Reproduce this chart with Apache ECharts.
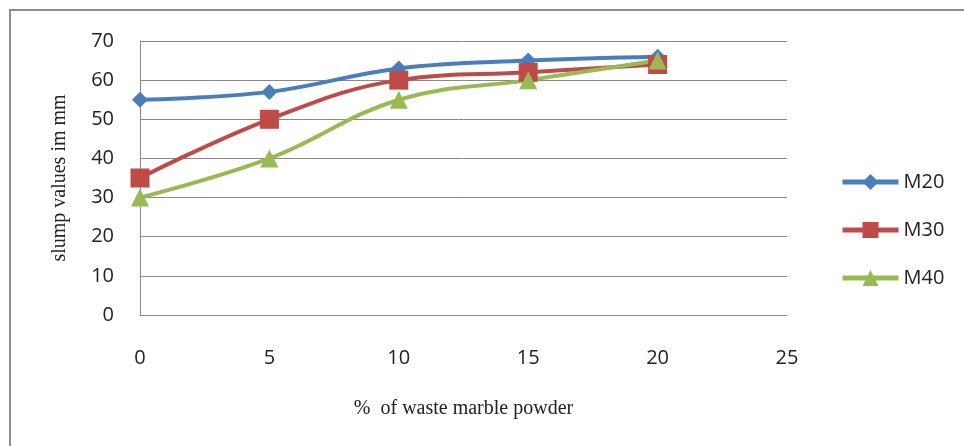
<!DOCTYPE html>
<html><head><meta charset="utf-8">
<script src="https://cdn.jsdelivr.net/npm/echarts@6/dist/echarts.min.js"></script>
<style>html,body{margin:0;padding:0;background:#fff}#c{width:964px;height:446px}</style>
</head><body><div id="c"></div>
<script>
const xValues = [0, 5, 10, 15, 20];
const m20 = [55, 57, 63, 65, 66];
const m30 = [35, 50, 60, 62, 64];
const m40 = [30, 40, 55, 60, 65];
const seriesNames = ['M20', 'M30', 'M40'];
const xTitle = '%  of waste marble powder';
const yTitle = 'slump values im mm';

const chart = echarts.init(document.getElementById('c'));
const pairs = arr => xValues.map((x, i) => [x, arr[i]]);
const lbl = {fontFamily: 'Open Sans, Liberation Sans, sans-serif', fontSize: 20, color: '#222'};
function mk(name, data, color, symbol, size) {
  return {name, type: 'line', data: pairs(data), smooth: 0.4, symbol, symbolSize: size,
    lineStyle: {color, width: 4}, itemStyle: {color}, z: 3};
}
chart.setOption({
  animation: false,
  graphic: [{type: 'rect', shape: {x: 10, y: 10, width: 970, height: 450}, style: {fill: 'none', stroke: '#8c8c8c', lineWidth: 2}}],
  grid: {left: 140, top: 41, width: 647, height: 274, containLabel: false},
  xAxis: {type: 'value', min: 0, max: 25, interval: 5,
    axisLine: {lineStyle: {color: '#888', width: 1}}, axisTick: {show: false},
    axisLabel: Object.assign({margin: 33}, lbl), splitLine: {show: false},
    name: xTitle, nameLocation: 'middle', nameGap: 84,
    nameTextStyle: {fontFamily: 'Liberation Serif, serif', fontSize: 20, color: '#222'}},
  yAxis: {type: 'value', min: 0, max: 70, interval: 10,
    axisLine: {show: true, lineStyle: {color: '#888', width: 1}}, axisTick: {show: false},
    axisLabel: Object.assign({margin: 26}, lbl),
    splitLine: {lineStyle: {color: '#888', width: 1}},
    name: yTitle, nameLocation: 'middle', nameGap: 70,
    nameTextStyle: {fontFamily: 'Liberation Serif, serif', fontSize: 20, color: '#222'}},
  legend: {orient: 'vertical', left: 840, top: 172, padding: 0, itemGap: 28, itemWidth: 56, itemHeight: 20,
    lineStyle: {width: 5},
    textStyle: {fontFamily: 'Open Sans, Liberation Sans, sans-serif', fontSize: 20, color: '#222'},
    data: seriesNames},
  series: [
    mk(seriesNames[0], m20, '#4A7EBB', 'diamond', 16),
    mk(seriesNames[1], m30, '#BE4B48', 'rect', 19),
    mk(seriesNames[2], m40, '#98B954', 'triangle', 18)
  ]
});
</script></body></html>
